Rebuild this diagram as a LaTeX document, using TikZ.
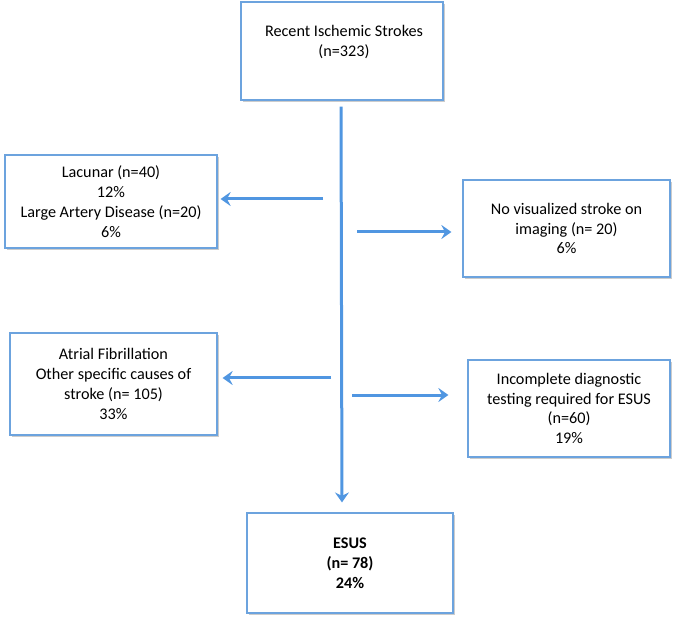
\documentclass[tikz,border=0pt]{standalone}
\usepackage{fontspec}
\setmainfont{Carlito}
\usetikzlibrary{arrows.meta,shadows}
\definecolor{boxblue}{RGB}{108,163,222}
\definecolor{arrblue}{RGB}{80,150,225}
\tikzset{
  box/.style={draw=boxblue, line width=1.2pt, fill=white, rectangle, inner sep=0pt,
    drop shadow={shadow xshift=1.5pt, shadow yshift=-1.8pt, fill=black!50, opacity=0.4}},
  txt/.style={align=center, font=\fontsize{16.2}{19.8}\selectfont, inner sep=0pt},
  flow/.style={draw=arrblue, line width=3pt, -{Stealth[length=10pt,width=14pt,inset=3.5pt]}},
}
\begin{document}
\begin{tikzpicture}[x=1pt,y=-1pt]
\useasboundingbox (0,0) rectangle (675,620);
% boxes
\node[box, minimum width=202pt, minimum height=98pt] (top) at (342,51) {};
\node[txt] (toptxt) at (344,42) {Recent Ischemic Strokes\\(n=323)};
\node[box, txt, minimum width=212pt, minimum height=93pt] (lac) at (111,201.5)
  {Lacunar (n=40)\\12\%\\Large Artery Disease (n=20)\\6\%};
\node[box, txt, minimum width=207pt, minimum height=97pt] (novis) at (566.5,228.5)
  {No visualized stroke on\\imaging (n= 20)\\6\%};
\node[box, txt, minimum width=207pt, minimum height=102pt] (af) at (113.5,384)
  {Atrial Fibrillation\\Other specific causes of\\stroke (n= 105)\\33\%};
\node[box, txt, minimum width=202pt, minimum height=97pt] (inc) at (569,408.5)
  {Incomplete diagnostic\\testing required for ESUS\\(n=60)\\19\%};
\node[box, txt, font=\fontsize{16.2}{19.8}\selectfont\bfseries, minimum width=206pt, minimum height=100pt] (esus) at (350,563)
  {ESUS\\(n= 78)\\24\%};
% free ends of side arrows
\coordinate (s1) at (323,199);
\coordinate (s2) at (357,232);
\coordinate (s3) at (331,378);
\coordinate (s4) at (352,395);
% connectors
\draw[flow, shorten <=6pt, shorten >=10pt] (top.south -| 341,0) -- (esus.north -| 342,0);
\draw[flow, shorten >=3pt] (s1) -- (s1 -| lac.east);
\draw[flow, shorten >=11pt] (s2) -- (s2 -| novis.west);
\draw[flow, shorten >=5pt] (s3) -- (s3 -| af.east);
\draw[flow, shorten >=19pt] (s4) -- (s4 -| inc.west);
\end{tikzpicture}
\end{document}
